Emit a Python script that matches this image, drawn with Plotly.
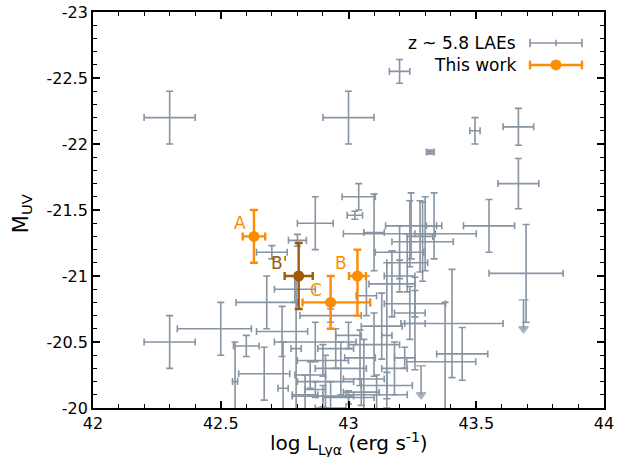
import plotly.graph_objects as go

# ---- z ~ 5.8 LAE comparison sample: log L(Lya), M_UV and their errors ----
lae_logL = [42.30, 43.00, 43.20, 43.495, 43.665, 43.32, 43.665, 43.55, 43.695, 42.30,
            42.50, 42.68, 42.60, 42.67, 42.74, 42.87, 42.80, 42.70, 43.04, 43.025,
            43.245, 43.29, 43.335, 43.20, 43.445, 43.24, 43.10, 43.28, 42.79, 42.795,
            42.556, 42.87, 42.91, 42.90, 42.87, 43.17, 43.405, 43.378, 43.10, 43.26,
            43.11, 43.15, 43.22, 43.045, 43.26, 43.15, 43.24, 42.95, 42.97, 42.93,
            43.06, 43.00, 42.83, 42.744, 43.20, 43.07, 42.93, 42.90, 43.30, 43.23,
            43.00, 43.05, 42.85, 43.13, 43.18]
lae_muv = [-22.20, -22.20, -22.55, -22.10, -22.13, -21.94, -21.70, -21.38, -21.02, -20.50,
           -20.60, -20.80, -20.47, -20.26, -20.58, -21.40, -21.27, -21.18, -21.60, -21.46,
           -21.38, -21.26, -21.38, -21.18, -20.41, -21.32, -21.33, -21.30, -20.90, -20.45,
           -20.20, -20.50, -20.20, -20.09, -20.14, -20.94, -20.64, -20.35, -20.48, -20.64,
           -20.10, -20.17, -20.38, -20.38, -20.79, -20.55, -20.72, -20.45, -20.30, -20.00,
           -20.22, -20.55, -20.10, -20.15, -21.00, -20.85, -20.70, -20.36, -21.32, -21.10,
           -20.08, -20.12, -20.25, -20.62, -20.30]
lae_xerr_lo = [0.10, 0.10, 0.04, 0.02, 0.06, 0.015, 0.08, 0.10, 0.145, 0.10,
               0.17, 0.12, 0.05, 0.10, 0.10, 0.07, 0.035, 0.06, 0.065, 0.03,
               0.10, 0.12, 0.03, 0.095, 0.10, 0.26, 0.04, 0.05, 0.08, 0.02,
               0.01, 0.16, 0.11, 0.12, 0.04, 0.09, 0.20, 0.15, 0.10, 0.04,
               0.12, 0.10, 0.04, 0.06, 0.12, 0.02, 0.06, 0.07, 0.10, 0.06,
               0.08, 0.05, 0.05, 0.02, 0.06, 0.04, 0.12, 0.10, 0.04, 0.08,
               0.10, 0.07, 0.06, 0.08, 0.05]
lae_xerr_hi = [0.10, 0.10, 0.04, 0.02, 0.06, 0.015, 0.08, 0.10, 0.145, 0.10,
               0.12, 0.12, 0.05, 0.10, 0.10, 0.07, 0.035, 0.06, 0.065, 0.03,
               0.10, 0.12, 0.03, 0.095, 0.10, 0.26, 0.04, 0.05, 0.08, 0.02,
               0.01, 0.16, 0.11, 0.12, 0.04, 0.09, 0.20, 0.12, 0.10, 0.04,
               0.12, 0.10, 0.04, 0.06, 0.12, 0.02, 0.06, 0.07, 0.10, 0.06,
               0.08, 0.05, 0.05, 0.02, 0.06, 0.04, 0.12, 0.10, 0.04, 0.08,
               0.10, 0.07, 0.06, 0.08, 0.05]
lae_yerr = [0.20, 0.20, 0.09, 0.10, 0.14, 0.015, 0.19, 0.20, 0.37, 0.20,
            0.20, 0.20, 0.08, 0.20, 0.19, 0.20, 0.045, 0.05, 0.10, 0.03,
            0.25, 0.30, 0.25, 0.20, 0.20, 0.25, 0.29, 0.27, 0.10, 0.55,
            0.30, 0.15, 0.20, 0.08, 0.06, 0.25, 0.41, 0.45, 0.24, 0.35,
            0.15, 0.10, 0.08, 0.21, 0.10, 0.55, 0.20, 0.15, 0.20, 0.20,
            0.30, 0.10, 0.15, 0.35, 0.12, 0.15, 0.05, 0.12, 0.28, 0.22,
            0.05, 0.10, 0.10, 0.25, 0.20]

# upper limits on M_UV (arrows pointing to fainter magnitudes)
lim_logL = [43.685, 43.284]
lim_muv_start = [-20.82, -20.32]
lim_muv_end = [-20.60, -20.10]

# ---- This work ----
tw_names = ["A", "B", "C"]
tw_logL = [42.63, 43.035, 42.93]
tw_muv = [-21.30, -21.00, -20.80]
tw_xerr_lo = [0.044, 0.033, 0.11]
tw_xerr_hi = [0.044, 0.033, 0.155]
tw_yerr_bright = [0.20, 0.20, 0.20]
tw_yerr_faint = [0.20, 0.30, 0.20]

bp_name = ["B'"]
bp_logL = [42.805]
bp_muv = [-21.00]
bp_xerr = [0.055]
bp_yerr = [0.25]

# axis ticks (labels use a plain hyphen as the minus sign)
x_ticks = [42, 42.5, 43, 43.5, 44]
x_ticktext = ["42", "42.5", "43", "43.5", "44"]
y_ticks = [-23, -22.5, -22, -21.5, -21, -20.5, -20]
y_ticktext = ["-23", "-22.5", "-22", "-21.5", "-21", "-20.5", "-20"]

GRAY = "#8794a2"
ORANGE = "#ff8c00"
BROWN = "#a0580c"
FONT = "DejaVu Sans"

fig = go.Figure()

fig.add_trace(go.Scatter(
    x=lae_logL, y=lae_muv, mode="markers",
    marker=dict(size=0.1, color=GRAY, opacity=0),
    error_x=dict(type="data", array=lae_xerr_hi, arrayminus=lae_xerr_lo,
                 color=GRAY, thickness=1.6, width=3.5),
    error_y=dict(type="data", array=lae_yerr, arrayminus=lae_yerr,
                 color=GRAY, thickness=1.6, width=3.5),
    showlegend=False, hoverinfo="skip"))

# upper-limit arrows: a shaft plus a downward triangle at the faint end
for x, y0, y1 in zip(lim_logL, lim_muv_start, lim_muv_end):
    fig.add_trace(go.Scatter(
        x=[x, x], y=[y0, y1], mode="lines+markers",
        line=dict(color=GRAY, width=1.6),
        marker=dict(symbol=["line-ew", "triangle-down"], size=[7, 8], color=GRAY,
                    line=dict(color=GRAY, width=1.6)),
        showlegend=False, hoverinfo="skip"))

fig.add_trace(go.Scatter(
    x=tw_logL, y=tw_muv, mode="markers",
    marker=dict(size=11, color=ORANGE),
    error_x=dict(type="data", array=tw_xerr_hi, arrayminus=tw_xerr_lo,
                 color=ORANGE, thickness=2.4, width=4),
    error_y=dict(type="data", array=tw_yerr_faint, arrayminus=tw_yerr_bright,
                 color=ORANGE, thickness=2.4, width=4),
    showlegend=False))

fig.add_trace(go.Scatter(
    x=bp_logL, y=bp_muv, mode="markers",
    marker=dict(size=11, color=BROWN),
    error_x=dict(type="data", array=bp_xerr, color=BROWN, thickness=2.4, width=4),
    error_y=dict(type="data", array=bp_yerr, color=BROWN, thickness=2.4, width=4),
    showlegend=False))

annotations = []
label_shift = {"A": (-14, 13), "B": (-16, 13), "C": (-15, 12), "B'": (-20, 13)}
for n, x, y in zip(tw_names, tw_logL, tw_muv):
    dx, dy = label_shift[n]
    annotations.append(dict(x=x, y=y, xref="x", yref="y", text=n, showarrow=False,
                            xshift=dx, yshift=dy, font=dict(size=17, color=ORANGE, family=FONT)))
for n, x, y in zip(bp_name, bp_logL, bp_muv):
    dx, dy = label_shift[n]
    annotations.append(dict(x=x, y=y, xref="x", yref="y", text=n, showarrow=False,
                            xshift=dx, yshift=dy, font=dict(size=17, color=BROWN, family=FONT)))

# axis titles placed as annotations below / left of the frame
annotations.append(dict(
    x=0.5, y=-0.089, xref="paper", yref="paper",
    text="log L<sub><span style='font-size:14px'>Lyα</span></sub> "
         "(erg s<sup><span style='font-size:14px'>-1</span></sup>)",
    showarrow=False, xanchor="center", yanchor="middle",
    font=dict(size=20, color="black", family=FONT)))
annotations.append(dict(x=-0.139, y=0.492, xref="paper", yref="paper",
                        text="M<sub>UV</sub>", showarrow=False, textangle=-90,
                        xanchor="center", yanchor="middle",
                        font=dict(size=21, color="black", family=FONT)))

# legend drawn by hand so the entries show error-bar glyphs
leg_x0, leg_x1, leg_xc = 0.8552, 0.9569, 0.9060
leg_rows = [(0.9217, "z ~ 5.8 LAEs", GRAY, 1.6, False),
            (0.8662, "This work", ORANGE, 2.4, True)]
shapes = []
for yy, label, col, lw, dot in leg_rows:
    shapes.append(dict(type="line", xref="paper", yref="paper", x0=leg_x0, x1=leg_x1,
                       y0=yy, y1=yy, line=dict(color=col, width=lw)))
    for xc in (leg_x0, leg_x1):
        shapes.append(dict(type="line", xref="paper", yref="paper", x0=xc, x1=xc,
                           y0=yy - 0.011, y1=yy + 0.011, line=dict(color=col, width=lw)))
    if dot:
        shapes.append(dict(type="circle", xref="paper", yref="paper",
                           xsizemode="pixel", ysizemode="pixel",
                           xanchor=leg_xc, yanchor=yy, x0=-5.5, x1=5.5, y0=-5.5, y1=5.5,
                           fillcolor=col, line=dict(color=col, width=0)))
    else:
        shapes.append(dict(type="line", xref="paper", yref="paper", x0=leg_xc, x1=leg_xc,
                           y0=yy - 0.008, y1=yy + 0.008, line=dict(color=col, width=lw)))
    annotations.append(dict(x=0.832, y=yy, xref="paper", yref="paper", text=label,
                            showarrow=False, xanchor="right", yanchor="middle",
                            font=dict(size=17, color="black", family=FONT)))

axis_common = dict(showgrid=False, zeroline=False, showline=True, linecolor="black",
                   linewidth=1.8, mirror="allticks", ticks="inside", ticklen=7,
                   tickwidth=1.5, tickcolor="black", automargin=False,
                   tickfont=dict(size=16, color="black", family=FONT))

fig.update_layout(
    width=629, height=457,
    margin=dict(l=93, r=25, t=12, b=49),
    paper_bgcolor="white", plot_bgcolor="white",
    font=dict(family=FONT, color="black"),
    xaxis=dict(range=[42, 44], tickmode="array", tickvals=x_ticks, ticktext=x_ticktext,
               minor=dict(dtick=0.1, tick0=42, ticklen=4, ticks="inside",
                          tickcolor="black", tickwidth=1.2),
               **axis_common),
    yaxis=dict(range=[-20, -23], tickmode="array", tickvals=y_ticks, ticktext=y_ticktext,
               minor=dict(dtick=0.1, tick0=-23, ticklen=4, ticks="inside",
                          tickcolor="black", tickwidth=1.2),
               **axis_common),
    shapes=shapes, annotations=annotations, showlegend=False)

fig.write_html("out.html")
